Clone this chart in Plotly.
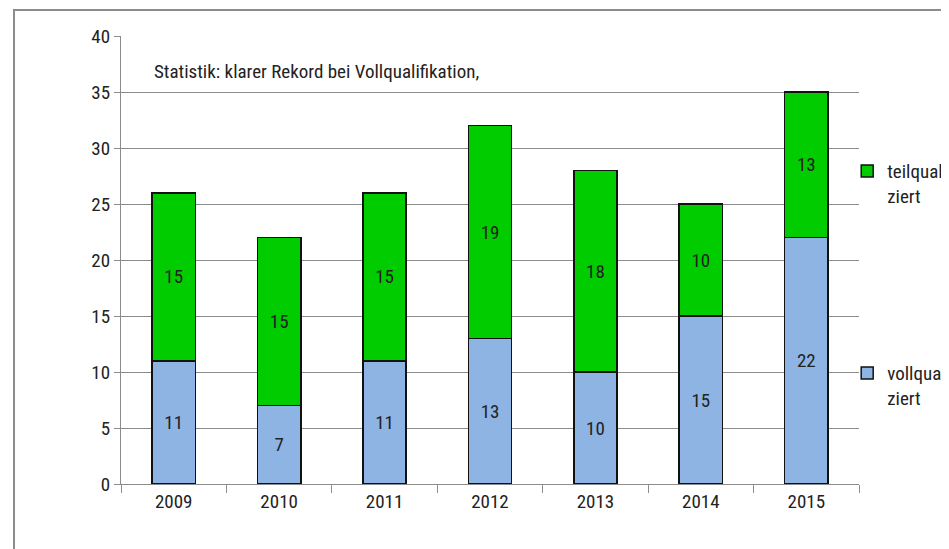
import plotly.graph_objects as go

years = ["2009", "2010", "2011", "2012", "2013", "2014", "2015"]
voll = [11, 7, 11, 13, 10, 15, 22]
teil = [15, 15, 15, 19, 18, 10, 13]
y_ticks = [0, 5, 10, 15, 20, 25, 30, 35, 40]
title_text = "Statistik: klarer Rekord bei Vollqualifikation,"
name_voll = "vollqualifi<br>ziert"
name_teil = "teilqualifi<br>ziert"

FONT = "Liberation Sans Narrow, Roboto Condensed, Roboto, sans-serif"
TXT = "#222222"
FS = 19

fig = go.Figure()
fig.add_trace(go.Bar(
    x=years, y=voll, name=name_voll, text=voll, textposition="inside",
    insidetextanchor="middle", textangle=0,
    textfont=dict(family=FONT, size=FS, color=TXT),
    marker=dict(color="#8EB4E3", line=dict(color="#111111", width=1.5)),
    legend="legend2", showlegend=True,
))
fig.add_trace(go.Bar(
    x=years, y=teil, name=name_teil, text=teil, textposition="inside",
    insidetextanchor="middle", textangle=0,
    textfont=dict(family=FONT, size=FS, color=TXT),
    marker=dict(color="#00CC00", line=dict(color="#111111", width=1.5)),
    legend="legend", showlegend=True,
))

fig.update_layout(
    width=949, height=549,
    barmode="stack", bargap=0.59,
    showlegend=True,
    plot_bgcolor="white", paper_bgcolor="white",
    margin=dict(l=113, r=98, t=28, b=73, autoexpand=False),
    font=dict(family=FONT, size=FS, color=TXT),
    uniformtext=dict(mode="show", minsize=10),
    xaxis=dict(
        showline=True, linecolor="#8c8c8c", linewidth=1.2,
        ticks="outside", tickson="boundaries", ticklen=8, tickcolor="#8c8c8c",
        tickfont=dict(family=FONT, size=FS, color=TXT), showgrid=False,
    ),
    yaxis=dict(
        range=[0, 40], tickvals=y_ticks, showline=True, linecolor="#8c8c8c",
        linewidth=1.2, ticks="outside", ticklen=6, tickcolor="#8c8c8c",
        showgrid=True, gridcolor="#8c8c8c", gridwidth=1.2, zeroline=False,
        tickfont=dict(family=FONT, size=FS, color=TXT),
    ),
    legend=dict(x=0.984, y=0.741, xanchor="left", yanchor="top",
                font=dict(family=FONT, size=FS, color=TXT), valign="top",
                bgcolor="rgba(0,0,0,0)", itemwidth=30),
    legend2=dict(x=0.984, y=0.29, xanchor="left", yanchor="top",
                 font=dict(family=FONT, size=FS, color=TXT), valign="top",
                 bgcolor="rgba(0,0,0,0)", itemwidth=30),
    annotations=[dict(
        text=title_text, xref="paper", yref="paper", x=0.042, y=0.92,
        xanchor="left", yanchor="middle", showarrow=False,
        font=dict(family=FONT, size=19, color=TXT),
    )],
    shapes=[dict(
        type="rect", xref="paper", yref="paper", x0=-0.145, y0=-0.25,
        x1=1.25, y1=1.058, line=dict(color="#8c8c8c", width=2),
        fillcolor="rgba(0,0,0,0)", layer="below",
    )],
)

fig.write_html("out.html")
